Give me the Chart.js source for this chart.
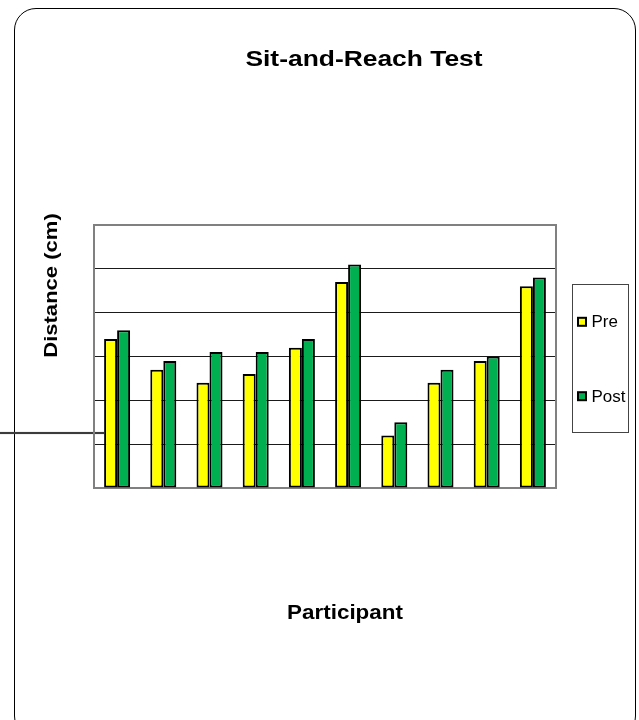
<!DOCTYPE html>
<html>
<head>
<meta charset="utf-8">
<script src="https://cdn.jsdelivr.net/npm/chart.js@4"></script>
<style>
  html, body { margin: 0; padding: 0; background: #ffffff; }
  #wrap { position: relative; width: 639px; height: 720px; overflow: hidden; }
  #frame { position: absolute; left: 14px; top: 8px; width: 622px; height: 730px;
           border: 1px solid #000; border-radius: 22px; box-sizing: border-box; }
  #stray { position: absolute; left: 0; top: 432px; width: 104px; height: 2px; background: #3c3c3c;
           box-shadow: 0 0 1px #777; }
  #c { position: absolute; left: 0; top: 0; }
</style>
</head>
<body>
<div id="wrap">
  <div id="frame"></div>
  <div id="stray"></div>
  <canvas id="c" width="639" height="720"></canvas>
</div>
<script>
const categories = ["1", "2", "3", "4", "5", "6", "7", "8", "9", "10"];
const preValues  = [34, 27, 24, 26, 32, 47, 12, 24, 29, 46];
const postValues = [36, 29, 31, 31, 34, 51, 15, 27, 30, 48];
const seriesNames = ["Pre", "Post"];
const seriesColors = ["#FFFF00", "#00B050"];
const chartTitle = "Sit-and-Reach Test";
const xTitle = "Participant";
const yTitle = "Distance (cm)";
const yMin = 0, yMax = 60, yStep = 10;

const FONT = '"Liberation Sans", Arial, sans-serif';

function drawText(ctx, text, x, y, font, sx, rotate, align) {
  ctx.save();
  ctx.translate(x, y);
  if (rotate) ctx.rotate(-Math.PI / 2);
  ctx.scale(sx, 1);
  ctx.font = font;
  ctx.fillStyle = '#000';
  ctx.textAlign = align || 'center';
  ctx.textBaseline = 'alphabetic';
  ctx.fillText(text, 0, 0);
  ctx.restore();
}

const decorPlugin = {
  id: 'decor',
  beforeDatasetsDraw(chart) {
    const ctx = chart.ctx, a = chart.chartArea;
    ctx.save();
    ctx.strokeStyle = '#808080';
    ctx.lineWidth = 2;
    ctx.strokeRect(a.left, a.top, a.right - a.left, a.bottom - a.top);
    ctx.restore();
  },
  afterDraw(chart) {
    const ctx = chart.ctx;
    drawText(ctx, chartTitle, 364, 66, 'bold 22px ' + FONT, 1.2, false);
    drawText(ctx, xTitle, 345, 619, 'bold 20px ' + FONT, 1.12, false);
    drawText(ctx, yTitle, 57, 285.5, 'bold 19px ' + FONT, 1.16, true);
    // legend box
    ctx.save();
    ctx.strokeStyle = '#444';
    ctx.lineWidth = 1;
    ctx.strokeRect(572.5, 284.5, 56, 148);
    const rows = [327.3, 401.7];
    chart.data.datasets.forEach((ds, i) => {
      const base = rows[i];
      ctx.fillStyle = ds.backgroundColor;
      ctx.fillRect(578, base - 9.5, 8, 8);
      ctx.strokeStyle = '#000';
      ctx.lineWidth = 2;
      ctx.strokeRect(578, base - 9.5, 8, 8);
      drawText(ctx, ds.label, 591.5, base, '16px ' + FONT, 1.06, false, 'left');
    });
    ctx.restore();
  }
};

new Chart(document.getElementById('c'), {
  type: 'bar',
  data: {
    labels: categories,
    datasets: [
      { label: seriesNames[0], data: preValues, backgroundColor: seriesColors[0],
        borderColor: '#000', borderWidth: 2, borderSkipped: false },
      { label: seriesNames[1], data: postValues, backgroundColor: seriesColors[1],
        borderColor: '#000', borderWidth: 2, borderSkipped: false }
    ]
  },
  options: {
    responsive: false,
    animation: false,
    layout: { padding: { left: 94, right: 83, top: 225, bottom: 232 } },
    datasets: { bar: { categoryPercentage: 0.563, barPercentage: 1.0 } },
    plugins: {
      legend: { display: false },
      title: { display: false },
      tooltip: { enabled: false }
    },
    scales: {
      x: {
        grid: { display: false, drawTicks: false },
        border: { display: false },
        ticks: { display: false }
      },
      y: {
        min: yMin, max: yMax,
        ticks: { display: false, stepSize: yStep },
        grid: { color: '#1a1a1a', lineWidth: 1, drawTicks: false },
        border: { display: false }
      }
    }
  },
  plugins: [decorPlugin]
});
</script>
</body>
</html>
